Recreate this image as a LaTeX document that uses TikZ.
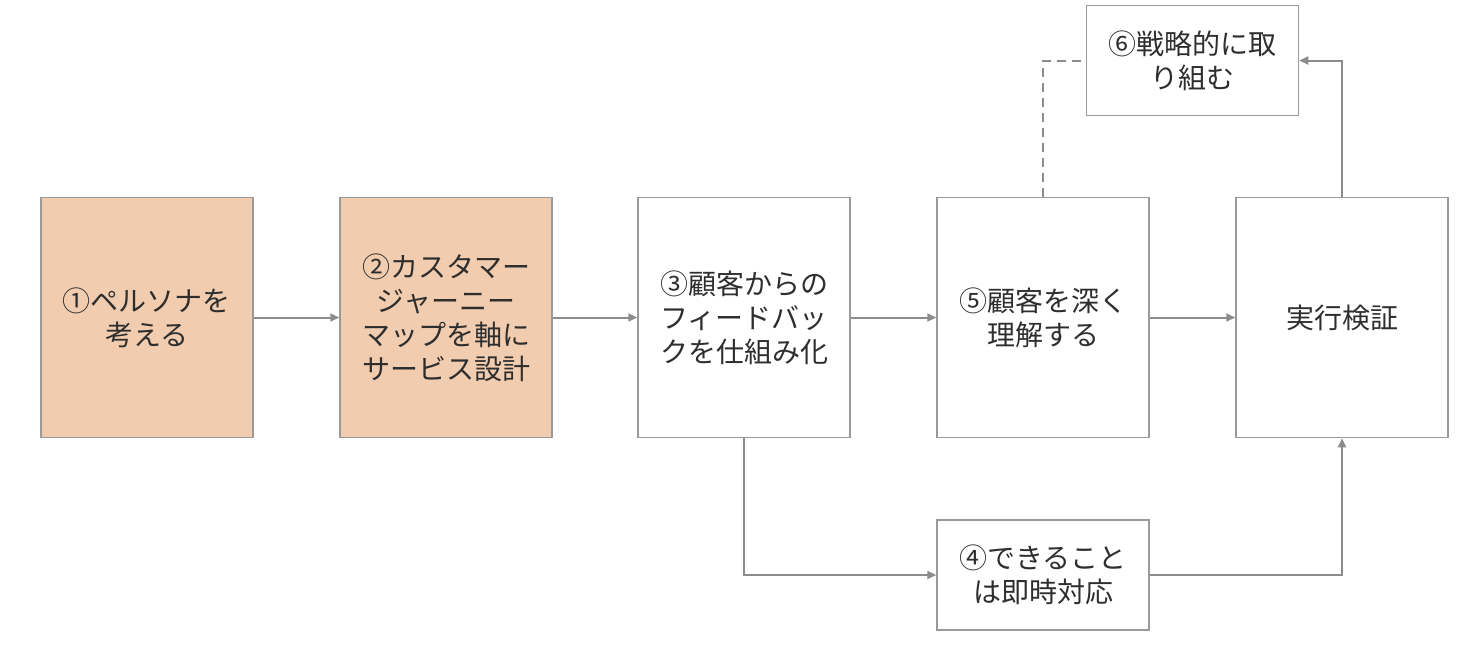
\documentclass[tikz,border=0pt]{standalone}
\usepackage{fontspec}
\newfontfamily\jp{Noto Sans CJK JP}
\usetikzlibrary{arrows.meta}
\definecolor{peach}{HTML}{F2CCAE}
\definecolor{edge}{HTML}{8C8C8C}
\definecolor{bordr}{HTML}{9A9A9A}
\definecolor{txt}{HTML}{2E2E2E}
\tikzset{
  box/.style={draw=bordr, line width=1.5pt, minimum width=212pt, minimum height=240pt, align=center, text=txt, font=\jp\fontsize{28}{34}\selectfont, inner sep=0pt},
  smallbox/.style={box, minimum height=110pt},
  warm/.style={fill=peach},
  conn/.style={draw=edge, line width=2pt, -{Triangle[length=9pt,width=8pt]}},
  dashconn/.style={draw=edge, line width=2pt, dashed, dash pattern=on 9pt off 6pt}
}
\begin{document}
\begin{tikzpicture}[x=1pt,y=-1pt]
\useasboundingbox (0,0) rectangle (1478,654);
\node[box,warm] (b1) at (146.8,317.5) {①ペルソナを\\考える};
\node[box,warm] (b2) at (446,317.5) {②カスタマー\\ジャーニー\\マップを軸に\\サービス設計};
\node[box] (b3) at (744,317.5) {③顧客からの\\フィードバッ\\クを仕組み化};
\node[box] (b5) at (1043,317.5) {⑤顧客を深く\\理解する};
\node[box] (bx) at (1342,317.5) {実行検証};
\node[smallbox] (b6) at (1192.5,60.5) {⑥戦略的に取\\り組む};
\node[smallbox] (b4) at (1043,575) {④できること\\は即時対応};
\draw[conn] (b1) -- (b2);
\draw[conn] (b2) -- (b3);
\draw[conn] (b3) -- (b5);
\draw[conn] (b5) -- (bx);
\draw[conn] (b3.south) |- (b4.west);
\draw[conn] (b4.east) -| (bx.south);
\draw[conn] (bx.north) |- (b6.east);
\draw[dashconn] (b5.north) |- (b6.west);
\end{tikzpicture}
\end{document}
